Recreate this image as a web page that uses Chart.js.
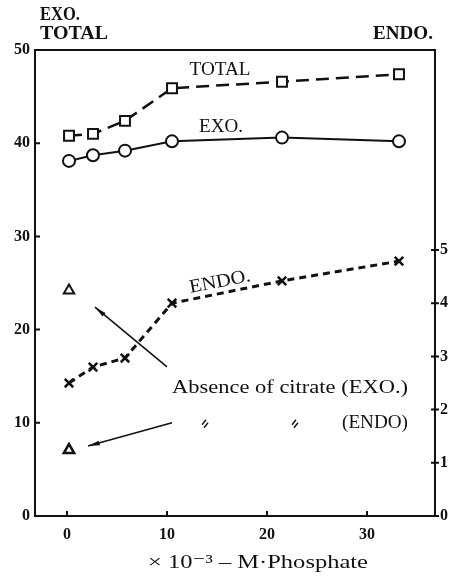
<!DOCTYPE html>
<html>
<head>
<meta charset="utf-8">
<script src="https://cdn.jsdelivr.net/npm/chart.js@4/dist/chart.umd.min.js"></script>
<style>
  html, body { margin: 0; padding: 0; background: #fff; }
  #wrap { width: 452px; height: 581px; }
</style>
</head>
<body>
<div id="wrap"><canvas id="chart1"></canvas></div>
<script>
// phosphate concentration (x 10^-3 M)
const phosphate = [0.2, 2.6, 5.8, 10.5, 21.5, 33.2];
const totalVals = [40.8, 41.0, 42.4, 45.9, 46.6, 47.4];
const exoVals = [38.1, 38.7, 39.2, 40.2, 40.6, 40.2];
const endoVals = [2.50, 2.80, 2.97, 4.00, 4.42, 4.79]; // right axis
// absence of citrate
const noCitX = [0.2];
const noCitExo = [24.2];
const noCitEndo = [1.24]; // right axis
const leftTicks = [0, 10, 20, 30, 40, 50];
const rightTicks = [0, 1, 2, 3, 4, 5];
const xTicks = [0, 10, 20, 30];

const serif = "'Liberation Serif', 'DejaVu Serif', serif";
const ink = '#111';

function pts(xs, ys) {
  return xs.map((x, i) => ({x: x, y: ys[i]}));
}

// squeeze/stretch a label so it spans the same width as in the scan
function fitText(ctx, text, x, y, align, width, rot) {
  const sx = width / ctx.measureText(text).width;
  ctx.save();
  ctx.translate(x, y);
  if (rot) ctx.rotate(rot);
  ctx.scale(sx, 1);
  ctx.textAlign = align;
  ctx.fillText(text, 0, 0);
  ctx.restore();
}

function arrow(ctx, x1, y1, x2, y2) {
  ctx.beginPath();
  ctx.moveTo(x1, y1);
  ctx.lineTo(x2, y2);
  ctx.stroke();
  const a = Math.atan2(y2 - y1, x2 - x1);
  ctx.beginPath();
  ctx.moveTo(x2, y2);
  ctx.lineTo(x2 - 12 * Math.cos(a - 0.2), y2 - 12 * Math.sin(a - 0.2));
  ctx.lineTo(x2 - 12 * Math.cos(a + 0.2), y2 - 12 * Math.sin(a + 0.2));
  ctx.closePath();
  ctx.fill();
}

const frame = {
  id: 'frame',
  beforeDatasetsDraw(chart) {
    const {ctx, chartArea: ca, scales} = chart;
    ctx.save();
    ctx.strokeStyle = ink;
    ctx.lineWidth = 2;
    ctx.strokeRect(ca.left, ca.top, ca.right - ca.left, ca.bottom - ca.top);
    ctx.beginPath();
    leftTicks.forEach(v => {
      const y = scales.y.getPixelForValue(v);
      ctx.moveTo(ca.left, y); ctx.lineTo(ca.left + 5, y);
    });
    rightTicks.forEach(v => {
      const y = scales.y2.getPixelForValue(v);
      ctx.moveTo(ca.right - 4, y); ctx.lineTo(ca.right + 4, y);
    });
    xTicks.forEach(v => {
      const x = scales.x.getPixelForValue(v);
      ctx.moveTo(x, ca.bottom); ctx.lineTo(x, ca.bottom - 5);
    });
    ctx.stroke();
    ctx.restore();
  },
  afterDatasetsDraw(chart) {
    const {ctx, chartArea: ca, scales} = chart;
    const X = v => scales.x.getPixelForValue(v);
    const Y = v => scales.y.getPixelForValue(v);
    ctx.save();
    ctx.fillStyle = ink;
    ctx.strokeStyle = ink;
    ctx.textBaseline = 'middle';

    // axis headings
    ctx.font = 'bold 19px ' + serif;
    fitText(ctx, 'EXO.', 40, 15, 'left', 40);
    fitText(ctx, 'TOTAL', 40, 34, 'left', 68);
    fitText(ctx, 'ENDO.', 433, 34, 'right', 60);

    // series labels
    ctx.font = '19px ' + serif;
    fitText(ctx, 'TOTAL', X(15.3), Y(47.9), 'center', 61);
    fitText(ctx, 'EXO.', X(15.4), Y(41.7), 'center', 44);
    fitText(ctx, 'ENDO.', X(15.3), Y(25.1), 'center', 62, -0.19);

    // absence of citrate notes
    ctx.font = '18px ' + serif;
    fitText(ctx, 'Absence of citrate (EXO.)', X(10.5), Y(13.7), 'left', 236);
    fitText(ctx, '(ENDO)', X(34.1), Y(9.9), 'right', 66);

    ctx.lineWidth = 1.6;
    arrow(ctx, X(10.0), Y(16.0), X(2.8), Y(22.4));
    arrow(ctx, X(10.5), Y(10.0), X(2.1), Y(7.5));

    // ditto marks
    ctx.lineWidth = 1.4;
    [13.8, 22.8].forEach(v => {
      const cx = X(v), cy = Y(9.9);
      ctx.beginPath();
      ctx.moveTo(cx - 3, cy + 1); ctx.lineTo(cx + 1, cy - 4);
      ctx.moveTo(cx - 1, cy + 4); ctx.lineTo(cx + 3, cy - 1);
      ctx.stroke();
    });

    // x axis title
    ctx.font = '19px ' + serif;
    fitText(ctx, '\u00d7 10\u207b\u00b3 \u2013 M\u00b7Phosphate', 258, 563, 'center', 220);
    ctx.restore();
  }
};

new Chart(document.getElementById('chart1'), {
  type: 'scatter',
  data: {
    datasets: [
      {
        label: 'TOTAL',
        data: pts(phosphate, totalVals),
        showLine: true,
        borderColor: ink,
        borderWidth: 2.5,
        borderDash: [13, 7],
        pointStyle: 'rect',
        pointRadius: 7,
        pointBorderWidth: 2,
        pointBackgroundColor: '#fff',
        pointBorderColor: ink,
        yAxisID: 'y'
      },
      {
        label: 'EXO.',
        data: pts(phosphate, exoVals),
        showLine: true,
        borderColor: ink,
        borderWidth: 2,
        pointStyle: 'circle',
        pointRadius: 6,
        pointBorderWidth: 2,
        pointBackgroundColor: '#fff',
        pointBorderColor: ink,
        yAxisID: 'y'
      },
      {
        label: 'ENDO.',
        data: pts(phosphate, endoVals),
        showLine: true,
        borderColor: ink,
        borderWidth: 3,
        borderDash: [7, 5],
        pointStyle: 'crossRot',
        pointRadius: 6,
        pointBorderWidth: 2.5,
        pointBorderColor: ink,
        yAxisID: 'y2'
      },
      {
        label: 'no citrate EXO.',
        data: pts(noCitX, noCitExo),
        showLine: false,
        pointStyle: 'triangle',
        pointRadius: 6,
        pointBorderWidth: 2,
        pointBackgroundColor: '#fff',
        pointBorderColor: ink,
        yAxisID: 'y'
      },
      {
        label: 'no citrate ENDO',
        data: pts(noCitX, noCitEndo),
        showLine: false,
        pointStyle: 'triangle',
        pointRadius: 6,
        pointBorderWidth: 2.5,
        pointBackgroundColor: '#fff',
        pointBorderColor: ink,
        yAxisID: 'y2'
      }
    ]
  },
  options: {
    responsive: true,
    maintainAspectRatio: false,
    animation: false,
    layout: {padding: {top: 50, left: 0, right: 0, bottom: 0}},
    plugins: {legend: {display: false}, tooltip: {enabled: false}},
    scales: {
      x: {
        type: 'linear',
        min: -3.2,
        max: 36.8,
        afterBuildTicks: s => { s.ticks = xTicks.map(v => ({value: v})); },
        afterFit: s => { s.height = 65; },
        grid: {display: false, drawTicks: false},
        border: {display: false},
        ticks: {color: ink, padding: 9, font: {family: serif, size: 16, weight: 'bold'}}
      },
      y: {
        position: 'left',
        min: 0,
        max: 50,
        afterBuildTicks: s => { s.ticks = leftTicks.map(v => ({value: v})); },
        afterFit: s => { s.width = 35; },
        grid: {display: false, drawTicks: false},
        border: {display: false},
        ticks: {color: ink, padding: 5, font: {family: serif, size: 16, weight: 'bold'}}
      },
      y2: {
        position: 'right',
        min: 0,
        max: 8.76,
        afterBuildTicks: s => { s.ticks = rightTicks.map(v => ({value: v})); },
        afterFit: s => { s.width = 17; },
        grid: {display: false, drawTicks: false},
        border: {display: false},
        ticks: {color: ink, padding: 5, font: {family: serif, size: 16, weight: 'bold'}}
      }
    }
  },
  plugins: [frame]
});
</script>
</body>
</html>
